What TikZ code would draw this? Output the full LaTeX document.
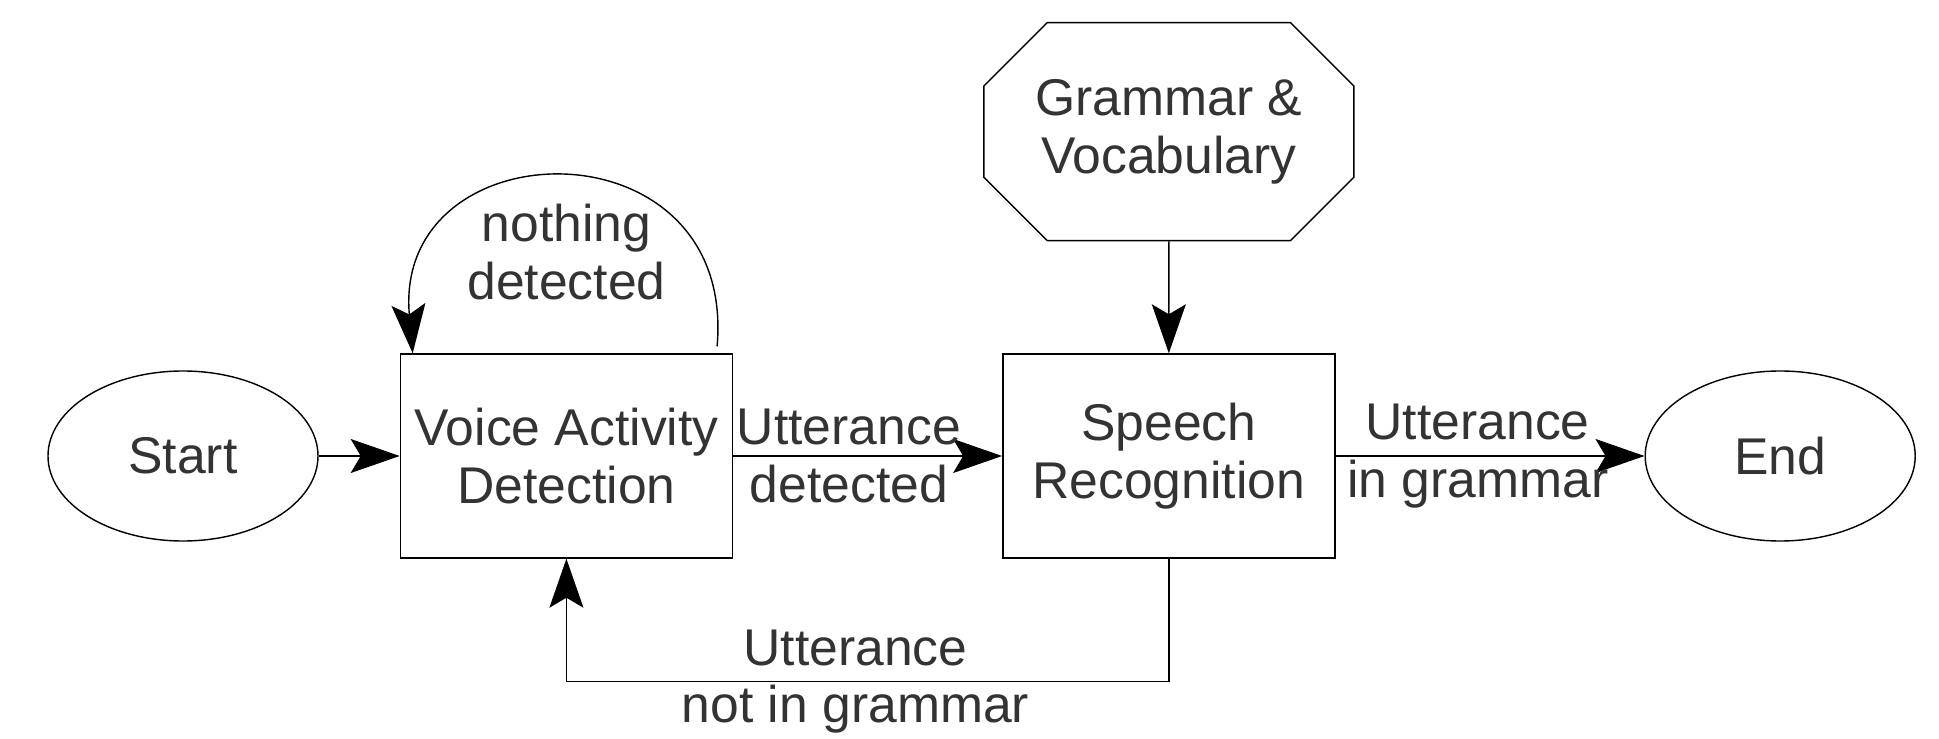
\documentclass[tikz,border=0pt]{standalone}
\usepackage{fontspec}
\setmainfont{Liberation Sans}
\usetikzlibrary{calc, positioning, arrows.meta, shapes.geometric, shapes.misc}
\definecolor{txtgray}{RGB}{51,51,51}
\tikzset{
  every node/.style={font=\fontsize{14.7}{16.4}\selectfont, text=txtgray, align=center, inner sep=0pt},
  terminal/.style={draw, ellipse, minimum width=27mm, minimum height=17mm},
  process/.style={draw, rectangle, minimum width=33.2mm, minimum height=20.4mm},
  store/.style={draw, chamfered rectangle, chamfered rectangle xsep=5.1mm, minimum width=37mm, minimum height=21.8mm},
  flow/.style={-{Stealth[length=4.9mm, width=3.4mm, inset=1mm]}, line width=0.4pt},
}

\begin{document}
\begin{tikzpicture}
    \node[terminal] (start) {Start};
    \node[process] (vad) [right=8.1mm of start] {Voice Activity\\Detection};
    \node[process] (sr) [right=26.9mm of vad] {Speech\\Recognition};
    \node[terminal] (finish) [right=30.9mm of sr] {End};

    \node[store] (gv) [above=11.2mm of sr] {Grammar \&\\Vocabulary};
    \node (loop) [above=5.3mm of vad] {nothing\\detected};

    \useasboundingbox ($(start.center)+(-18.3mm,45.6mm)$) rectangle ++(193.9mm,-73.9mm);

    \draw[flow] (start) -- (vad);
    \draw[flow] (vad) -- node[pos=0.43] {Utterance\\detected} (sr);
    \draw[flow] (sr) -- node[pos=0.46] {Utterance\\in grammar} (finish);
    \draw[flow] (gv) -- (sr);

    \draw[flow] ($(vad.north east)+(-1.6mm,0.7mm)$) to[out=85, in=95, looseness=1.92] ($(vad.north west)+(1.3mm,0)$);
    \draw[flow] (sr.south) -- ++(0,-12.3mm) -| node[pos=0.26] {Utterance\\not in grammar} (vad.south);
\end{tikzpicture}
\end{document}
